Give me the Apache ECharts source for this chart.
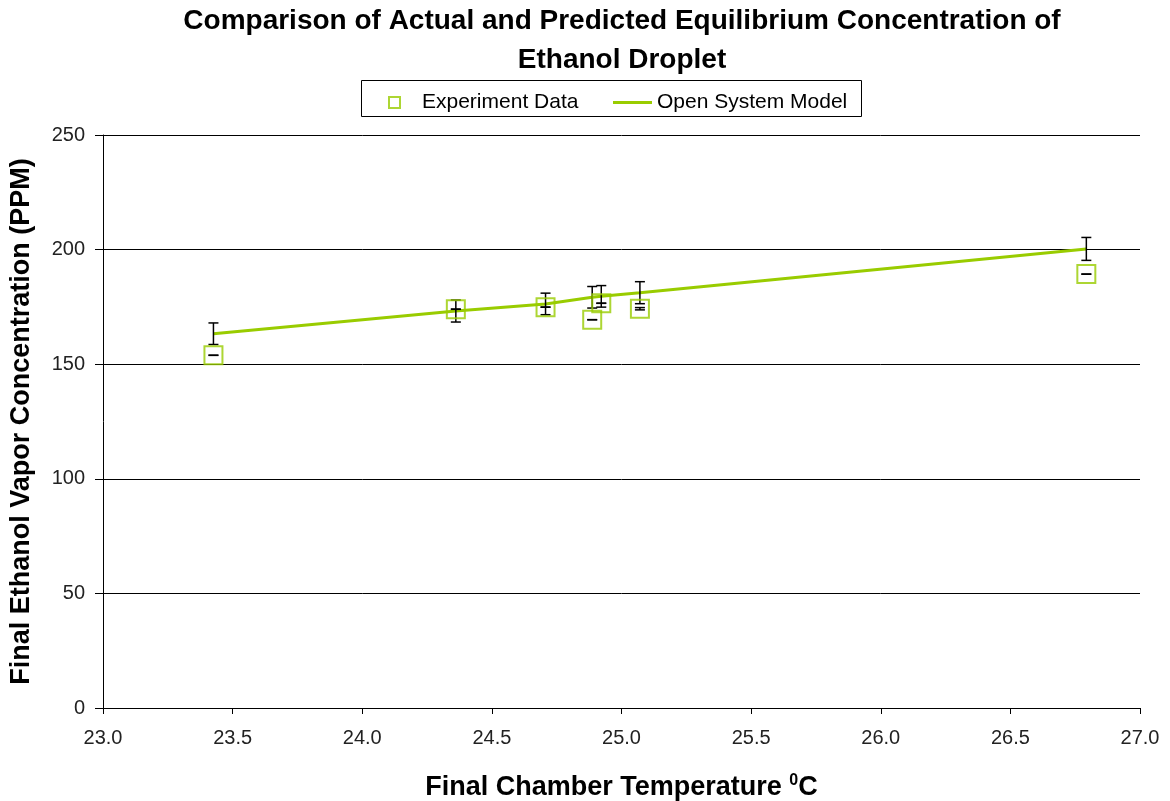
<!DOCTYPE html>
<html><head><meta charset="utf-8">
<script src="https://cdn.jsdelivr.net/npm/echarts@6/dist/echarts.min.js"></script>
<style>html,body{margin:0;padding:0;background:#fff}#c{width:1170px;height:801px}</style>
</head><body><div id="c"></div>
<script>
// Data
const tempX   = [23.426, 24.361, 24.707, 24.887, 24.922, 25.071, 26.793];
const expY    = [153.9, 174.0, 174.9, 169.4, 176.6, 174.2, 189.3];
const modelY  = [163.3, 173.2, 176.3, 179.2, 179.6, 181.2, 200.3];
const modelErr = [4.7, 4.8, 4.7, 4.7, 4.7, 4.8, 5.0];
const expErr   = [0.05, 0.05, 0.05, 0.05, 0.05, 0.5, 0.05];
const yTicks = [0, 50, 100, 150, 200, 250];
const xTicks = [23.0, 23.5, 24.0, 24.5, 25.0, 25.5, 26.0, 26.5, 27.0];

const GREEN = '#99cc00';
const expData = tempX.map((x, i) => [x, expY[i]]);
const modelData = tempX.map((x, i) => [x, modelY[i]]);
const modelBars = tempX.map((x, i) => [x, modelY[i] - modelErr[i], modelY[i] + modelErr[i]]);
const expBars = tempX.map((x, i) => [x, expY[i] - expErr[i], expY[i] + expErr[i]]);

function errRender(params, api) {
  const x = api.value(0), lo = api.value(1), hi = api.value(2);
  const pLo = api.coord([x, lo]), pHi = api.coord([x, hi]);
  const w = 5;
  const st = {stroke: '#000', lineWidth: 1.5};
  return {type: 'group', children: [
    {type: 'line', shape: {x1: pLo[0], y1: pLo[1], x2: pHi[0], y2: pHi[1]}, style: st},
    {type: 'line', shape: {x1: pLo[0]-w, y1: pLo[1], x2: pLo[0]+w, y2: pLo[1]}, style: st},
    {type: 'line', shape: {x1: pHi[0]-w, y1: pHi[1], x2: pHi[0]+w, y2: pHi[1]}, style: st}
  ]};
}

const chart = echarts.init(document.getElementById('c'));
const FONT = '"Liberation Sans", Arial, sans-serif';
chart.setOption({
  animation: false,
  textStyle: {fontFamily: FONT},
  title: {
    text: 'Comparison of Actual and Predicted Equilibrium Concentration of\nEthanol Droplet',
    left: 622, textAlign: 'center', top: 2, padding: 0,
    textStyle: {fontFamily: FONT, fontSize: 28, fontWeight: 'bold', color: '#000', lineHeight: 39}
  },
  graphic: [{
    type: 'rect', shape: {x: 361.5, y: 80.5, width: 500, height: 36},
    style: {fill: 'none', stroke: '#000', lineWidth: 1}, z: 0
  }],
  legend: [
    {data: ['Experiment Data'], left: 388, top: 92, padding: 0, itemWidth: 11, itemHeight: 11, itemGap: 0,
     textStyle: {fontFamily: FONT, fontSize: 21, color: '#000', padding: [0, 0, 0, 17]}},
    {data: [{name: 'Open System Model', icon: 'rect'}], left: 613, top: 92, padding: 0, itemWidth: 39, itemHeight: 3, itemGap: 0,
     textStyle: {fontFamily: FONT, fontSize: 21, color: '#000', padding: [0, 0, 0, 0]}}
  ],
  grid: {left: 103, right: 30, top: 135, bottom: 93, outerBoundsMode: 'none', containLabel: false},
  xAxis: {
    type: 'value', min: 23, max: 27, interval: 0.5,
    name: 'Final Chamber Temperature {sup|0}C', nameLocation: 'middle', nameGap: 65,
    nameTextStyle: {fontFamily: FONT, fontSize: 27, fontWeight: 'bold', color: '#000',
      rich: {sup: {fontSize: 16, fontWeight: 'bold', verticalAlign: 'top', padding: [0, 0, 14, 0], fontFamily: FONT, color: '#000'}}},
    axisLine: {show: true, lineStyle: {color: '#000', width: 1}},
    axisTick: {show: true, length: 6, lineStyle: {color: '#000'}},
    axisLabel: {fontSize: 20, color: '#222', margin: 20, formatter: v => v.toFixed(1)},
    splitLine: {show: false}
  },
  yAxis: {
    type: 'value', min: 0, max: 250, interval: 50,
    name: 'Final Ethanol Vapor Concentration (PPM)', nameLocation: 'middle', nameGap: 68,
    nameTextStyle: {fontFamily: FONT, fontSize: 27, fontWeight: 'bold', color: '#000'},
    axisLine: {show: true, lineStyle: {color: '#000', width: 1}},
    axisTick: {show: true, length: 8, lineStyle: {color: '#000'}},
    axisLabel: {fontSize: 20, color: '#222', margin: 18},
    splitLine: {show: true, lineStyle: {color: '#000', width: 1}}
  },
  series: [
    {name: 'Open System Model', type: 'line', data: modelData, showSymbol: false, symbol: 'none',
     lineStyle: {color: GREEN, width: 3}, itemStyle: {color: GREEN}, z: 3},
    {name: 'modelErr', type: 'custom', renderItem: errRender, data: modelBars, z: 4, silent: true},
    {name: 'expErr', type: 'custom', renderItem: errRender, data: expBars, z: 4, silent: true},
    {name: 'Experiment Data', type: 'scatter', data: expData, symbol: 'rect', symbolSize: 18,
     itemStyle: {color: 'rgba(255,255,255,0)', borderColor: GREEN, borderWidth: 2}, z: 5}
  ]
});
</script></body></html>
